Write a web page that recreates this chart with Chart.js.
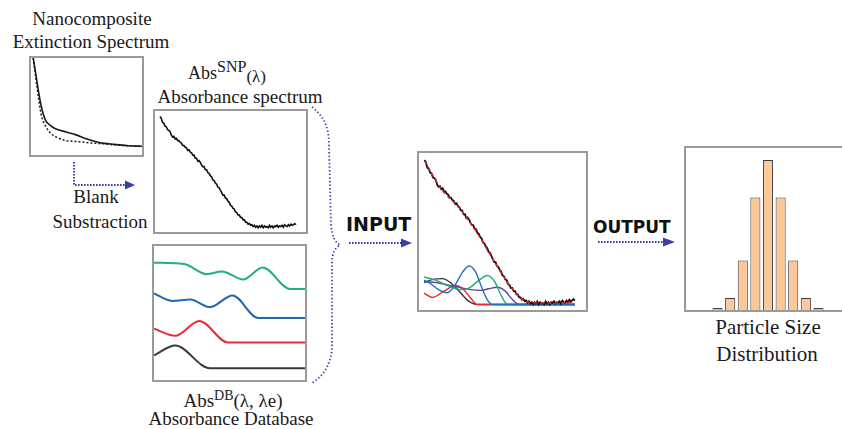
<!DOCTYPE html>
<html>
<head>
<meta charset="utf-8">
<script src="https://cdn.jsdelivr.net/npm/chart.js@4.4.1/dist/chart.umd.min.js"></script>
<style>
  html, body { margin: 0; padding: 0; background: #fff; }
  body { width: 842px; height: 429px; position: relative; overflow: hidden; }
  .box { position: absolute; border: 2px solid #9a9a9a; background: #fff; }
  .box canvas { display: block; }
  .lbl { position: absolute; font-family: "Liberation Serif", "Times New Roman", serif;
         font-size: 19px; line-height: 19px; color: #1a1a1a; text-align: center; white-space: nowrap; }
  .tag { position: absolute; font-family: "DejaVu Sans", sans-serif; font-weight: bold;
         font-size: 19px; line-height: 19px; color: #111; white-space: nowrap; }
  svg { position: absolute; left: 0; top: 0; pointer-events: none; }
</style>
</head>
<body>

<!-- titles -->
<div class="lbl" style="left:12px;width:160px;top:9px">Nanocomposite</div>
<div class="lbl" style="left:11px;width:160px;top:32px">Extinction Spectrum</div>
<div class="lbl" style="left:147px;width:160px;top:63px"><span style="font-size:18px">Abs</span><span style="font-size:16px;position:relative;top:-7px">SNP</span><span style="font-size:17px;position:relative;top:3px">(λ)</span></div>
<div class="lbl" style="left:150px;width:180px;top:87px">Absorbance spectrum</div>
<div class="lbl" style="left:46px;width:100px;top:187px">Blank</div>
<div class="lbl" style="left:40px;width:120px;top:212px">Substraction</div>
<div class="lbl" style="left:153px;width:160px;top:391px">Abs<span style="font-size:14px;position:relative;top:-7px">DB</span>(λ, λe)</div>
<div class="lbl" style="left:136px;width:190px;top:409px">Absorbance Database</div>
<div class="lbl" style="left:693px;width:150px;top:317px;font-size:21px;line-height:21px">Particle Size</div>
<div class="lbl" style="left:692px;width:150px;top:344px;font-size:21px;line-height:21px">Distribution</div>
<div class="tag" style="left:346px;top:215px">INPUT</div>
<div class="tag" style="left:593px;top:219px;font-size:17px;line-height:17px">OUTPUT</div>

<!-- panels -->
<div class="box" style="left:29px;top:56px;width:111px;height:97px"><canvas id="ext" width="111" height="97"></canvas></div>
<div class="box" style="left:153px;top:109px;width:151px;height:121px"><canvas id="snp" width="151" height="121"></canvas></div>
<div class="box" style="left:152px;top:244px;width:151px;height:134px"><canvas id="db" width="151" height="134"></canvas></div>
<div class="box" style="left:417px;top:151px;width:167px;height:157px"><canvas id="fit" width="167" height="157"></canvas></div>
<div class="box" style="left:684px;top:146px;width:172px;height:162px"><canvas id="psd" width="164" height="162"></canvas></div>

<svg width="842" height="429">
  <g fill="none" stroke="#3b3fa6" stroke-width="2" stroke-dasharray="1.6 1.4">
    <path d="M74,162 V185 H126"/>
    <path d="M349,243 H402"/>
    <path d="M598,242 H664"/>
  </g>
  <path d="M312,107 C326,118 329,130 329,146 L331,224 C332,237 335,242 340,245 C335,248 332,253 332,263 L332,345 C332,362 325,375 312,383"
        fill="none" stroke="#3b3fa6" stroke-width="1.8" stroke-dasharray="1.4 2.2"/>
  <g fill="#3b3fa6">
    <polygon points="125,180.5 135,185 125,189.5"/>
    <polygon points="401,238.5 412,243 401,247.5"/>
    <polygon points="663,237.5 675,242 663,246.5"/>
  </g>
</svg>

<script>
// Nanocomposite extinction spectrum (sample solid, blank dotted)
const EXT_X = [2, 4.5, 7, 9.5, 13, 18, 22, 31, 40, 49, 58, 66, 75, 88, 100];
const EXT_SAMPLE = [1.0, 0.82, 0.64, 0.49, 0.36, 0.30, 0.27, 0.24, 0.21, 0.17, 0.14, 0.12, 0.11, 0.095, 0.09];
const EXT_BLANK = [1.0, 0.78, 0.57, 0.40, 0.30, 0.22, 0.19, 0.15, 0.14, 0.13, 0.12, 0.115, 0.105, 0.095, 0.09];

// Abs SNP(λ) measured spectrum
const SPEC_NM = [
  350,352.5,355,357.5,360,362.5,365,367.5,370,372.5,
  375,377.5,380,382.5,385,387.5,390,392.5,395,397.5,
  400,402.5,405,407.5,410,412.5,415,417.5,420,422.5,
  425,427.5,430,432.5,435,437.5,440,442.5,445,447.5,
  450,452.5,455,457.5,460,462.5,465,467.5,470,472.5,
  475,477.5,480,482.5,485,487.5,490,492.5,495,497.5,
  500,502.5,505,507.5,510,512.5,515,517.5,520,522.5,
  525,527.5,530,532.5,535,537.5,540,542.5,545,547.5,
  550,552.5,555,557.5,560,562.5,565,567.5,570,572.5,
  575,577.5,580,582.5,585,587.5,590,592.5,595,597.5,
  600,602.5,605,607.5,610,612.5,615,617.5,620];
const SPEC_ABS = [
  0.955,0.94,0.905,0.90,0.875,0.87,0.845,0.84,0.83,0.80,
  0.785,0.79,0.77,0.775,0.755,0.755,0.74,0.735,0.715,0.715,
  0.70,0.695,0.675,0.68,0.66,0.655,0.635,0.635,0.61,0.61,
  0.585,0.59,0.575,0.555,0.54,0.54,0.515,0.515,0.49,0.485,
  0.465,0.455,0.43,0.425,0.405,0.395,0.37,0.365,0.345,0.325,
  0.305,0.305,0.28,0.275,0.255,0.245,0.22,0.215,0.195,0.19,
  0.165,0.16,0.14,0.14,0.12,0.12,0.10,0.10,0.08,0.08,
  0.065,0.07,0.055,0.06,0.045,0.055,0.04,0.05,0.035,0.05,
  0.04,0.055,0.035,0.05,0.04,0.045,0.035,0.055,0.04,0.05,
  0.035,0.05,0.045,0.055,0.04,0.05,0.045,0.055,0.04,0.06,
  0.05,0.045,0.06,0.05,0.065,0.055,0.06,0.07,0.06];

// fitted spectrum
const FIT_NM = [350, 380, 410, 440, 470, 500, 520, 535, 560, 590, 620];
const FIT_ABS = [0.95, 0.77, 0.66, 0.515, 0.34, 0.17, 0.085, 0.05, 0.045, 0.045, 0.05];

// fitted components
const COMP_BLUE_NM = [349,360,375,391,405,418,430,442,452,462,472,620];
const COMP_BLUE = [0.19,0.17,0.13,0.11,0.16,0.24,0.28,0.24,0.15,0.07,0.035,0.035];
const COMP_GREEN_NM = [349,370,395,415,430,448,463,476,488,499,620];
const COMP_GREEN = [0.21,0.19,0.15,0.13,0.14,0.19,0.22,0.18,0.09,0.035,0.035];
const COMP_PURPLE_NM = [349,370,391,412,433,450,465,481,495,507,520,620];
const COMP_PURPLE = [0.18,0.175,0.16,0.145,0.13,0.125,0.135,0.145,0.12,0.07,0.035,0.035];
const COMP_BLACK_NM = [349,365,382,398,412,428,445,620];
const COMP_BLACK = [0.176,0.195,0.20,0.17,0.12,0.06,0.035,0.035];
const COMP_RED_NM = [349,364,385,406,420,432,445,620];
const COMP_RED = [0.107,0.08,0.12,0.157,0.13,0.08,0.035,0.035];

// absorbance database entries
const DB_GREEN_X = [0, 20, 35, 45, 59, 72, 90, 100];
const DB_GREEN = [0.875, 0.865, 0.79, 0.81, 0.75, 0.84, 0.68, 0.68];
const DB_BLUE_X = [0, 12, 24, 37, 52, 69, 100];
const DB_BLUE = [0.647, 0.59, 0.60, 0.544, 0.63, 0.463, 0.463];
const DB_RED_X = [0, 14, 30, 49, 100];
const DB_RED = [0.382, 0.33, 0.44, 0.28, 0.28];
const DB_BLACK_X = [0, 14, 37, 100];
const DB_BLACK = [0.184, 0.257, 0.088, 0.088];

// particle size distribution
const SIZE_BINS = ['4','6','8','10','12','14','16','18','20','22','24','26','28'];
const COUNTS = [0, 0, 1.3, 8, 33, 75, 100, 75, 33, 8, 1.3, 0, 0];

const pts = (xs, ys) => xs.map((x, i) => ({ x, y: ys[i] }));

function line(xs, ys, color, width, dash) {
  return {
    data: pts(xs, ys),
    borderColor: color,
    borderWidth: width,
    borderDash: dash || [],
    pointRadius: 0,
    fill: false,
    cubicInterpolationMode: 'monotone'
  };
}

function lineChart(id, xmin, xmax, datasets) {
  return new Chart(document.getElementById(id), {
    type: 'line',
    data: { datasets },
    options: {
      responsive: false,
      animation: false,
      events: [],
      layout: { padding: 0 },
      plugins: { legend: { display: false }, tooltip: { enabled: false } },
      scales: {
        x: { type: 'linear', display: false, min: xmin, max: xmax },
        y: { display: false, min: 0, max: 1 }
      }
    }
  });
}

lineChart('ext', 0, 100, [
  line(EXT_X, EXT_SAMPLE, '#1a1a1a', 1.6),
  line(EXT_X, EXT_BLANK, '#1a1a1a', 1.5, [2, 2])
]);

lineChart('snp', 340, 640, [
  { ...line(SPEC_NM, SPEC_ABS, '#111', 1.6), cubicInterpolationMode: 'default', tension: 0 }
]);

lineChart('db', 0, 100, [
  line(DB_GREEN_X, DB_GREEN, '#22b07a', 2),
  line(DB_BLUE_X, DB_BLUE, '#1f68b5', 2),
  line(DB_RED_X, DB_RED, '#ec2b3a', 2),
  line(DB_BLACK_X, DB_BLACK, '#3a3a3a', 2)
]);

lineChart('fit', 340, 640, [
  line(FIT_NM, FIT_ABS, '#e8202a', 1.5, [4, 3]),
  { ...line(SPEC_NM, SPEC_ABS, '#111', 1.8), cubicInterpolationMode: 'default', tension: 0 },
  line(COMP_BLUE_NM, COMP_BLUE, '#2170c0', 1.4),
  line(COMP_GREEN_NM, COMP_GREEN, '#1fb070', 1.4),
  line(COMP_PURPLE_NM, COMP_PURPLE, '#6a3d9e', 1.4),
  line(COMP_RED_NM, COMP_RED, '#ec2530', 1.4),
  line(COMP_BLACK_NM, COMP_BLACK, '#3a3a3a', 1.4)
]);

new Chart(document.getElementById('psd'), {
  type: 'bar',
  data: {
    labels: SIZE_BINS,
    datasets: [{
      data: COUNTS,
      backgroundColor: '#fcc899',
      borderColor: '#3d3d3d',
      borderWidth: 1,
      barPercentage: 0.8,
      categoryPercentage: 1
    }]
  },
  options: {
    responsive: false,
    animation: false,
    events: [],
    layout: { padding: 0 },
    plugins: { legend: { display: false }, tooltip: { enabled: false } },
    scales: {
      x: { display: false },
      y: { display: false, min: 0, max: 108 }
    }
  }
});
</script>
</body>
</html>
